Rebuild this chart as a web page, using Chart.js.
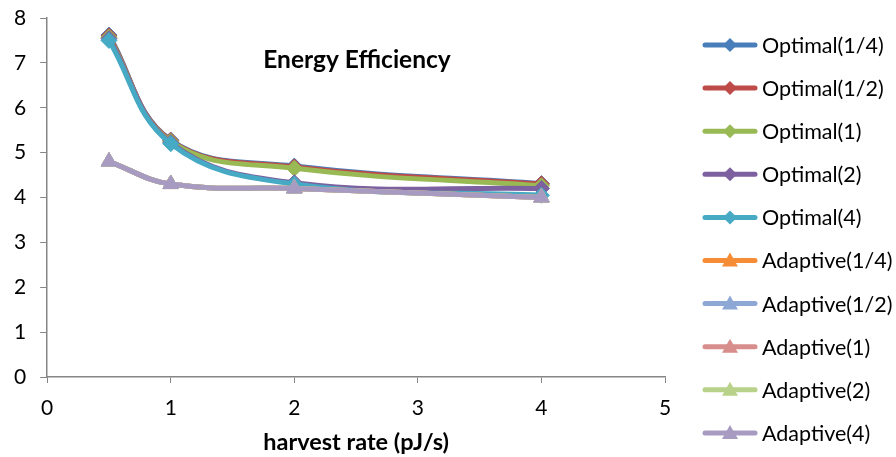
<!DOCTYPE html>
<html>
<head>
<meta charset="utf-8">
<script src="https://cdn.jsdelivr.net/npm/chart.js@4"></script>
<style>
  html, body { margin: 0; padding: 0; background: #fff; }
  #wrap { width: 896px; height: 457px; }
</style>
</head>
<body>
<div id="wrap"><canvas id="energyChart" width="896" height="457"></canvas></div>
<script>
// harvest rate (pJ/s) on the x axis
const harvestRates = [0.5, 1, 2, 4];

const seriesNames = [
    "Optimal(1/4)", "Optimal(1/2)", "Optimal(1)", "Optimal(2)", "Optimal(4)",
    "Adaptive(1/4)", "Adaptive(1/2)", "Adaptive(1)", "Adaptive(2)", "Adaptive(4)"
];

const optimalQuarter = [7.62, 5.28, 4.70, 4.31];
const optimalHalf    = [7.60, 5.27, 4.68, 4.30];
const optimalOne     = [7.57, 5.25, 4.65, 4.26];
const optimalTwo     = [7.54, 5.22, 4.33, 4.20];
const optimalFour    = [7.50, 5.20, 4.30, 4.05];
const adaptiveQuarter = [4.80, 4.30, 4.20, 4.00];
const adaptiveHalf    = [4.80, 4.30, 4.20, 4.00];
const adaptiveOne     = [4.80, 4.30, 4.20, 4.00];
const adaptiveTwo     = [4.80, 4.30, 4.20, 4.00];
const adaptiveFour    = [4.80, 4.30, 4.20, 4.00];

const xTicks = [0, 1, 2, 3, 4, 5];
const yTicks = [0, 1, 2, 3, 4, 5, 6, 7, 8];

const seriesValues = [
    optimalQuarter, optimalHalf, optimalOne, optimalTwo, optimalFour,
    adaptiveQuarter, adaptiveHalf, adaptiveOne, adaptiveTwo, adaptiveFour
];

const colors = [
    "#4A7EBB", "#BE4B48", "#98B954", "#7D60A0", "#46AAC5",
    "#F68C36", "#8EA8D6", "#D78E8C", "#B9D28A", "#A79BC2"
];

const FONT = "Lato, 'Open Sans', sans-serif";

const datasets = seriesValues.map((vals, i) => {
    const isTri = i >= 5;
    return {
        label: seriesNames[i],
        data: vals.map((v, k) => ({ x: harvestRates[k], y: v })),
        borderColor: colors[i],
        backgroundColor: colors[i],
        borderWidth: 5,
        pointStyle: isTri ? "triangle" : "rectRot",
        pointRadius: isTri ? 9 : 8,
        pointBorderWidth: 1,
        tension: 0.4,
        order: 10 - i
    };
});

// legend with line + marker drawn like the spreadsheet, plus the inner title
const extras = {
    id: "extras",
    afterDraw(chart) {
        const ctx = chart.ctx;
        ctx.save();
        ctx.fillStyle = "#000";
        ctx.font = "bold 24.5px " + FONT;
        ctx.textAlign = "center";
        ctx.textBaseline = "middle";
        ctx.fillText("Energy Efficiency", 357, 60);

        ctx.textAlign = "left";
        ctx.font = "21.5px " + FONT;
        chart.data.datasets.forEach((ds, i) => {
            const y = 45 + i * 43.1;
            ctx.strokeStyle = ds.borderColor;
            ctx.lineWidth = 5;
            ctx.lineCap = "round";
            ctx.beginPath();
            ctx.moveTo(705, y);
            ctx.lineTo(755, y);
            ctx.stroke();
            ctx.fillStyle = ds.borderColor;
            ctx.beginPath();
            if (i < 5) {
                ctx.moveTo(730, y - 7);
                ctx.lineTo(737, y);
                ctx.lineTo(730, y + 7);
                ctx.lineTo(723, y);
            } else {
                ctx.moveTo(730, y - 8);
                ctx.lineTo(738, y + 6);
                ctx.lineTo(722, y + 6);
            }
            ctx.closePath();
            ctx.fill();
            ctx.fillStyle = "#000";
            ctx.fillText(ds.label, 762, y + 1);
        });
        ctx.restore();
    }
};

new Chart(document.getElementById("energyChart"), {
    type: "line",
    data: { datasets: datasets },
    options: {
        responsive: false,
        animation: false,
        layout: { padding: { left: 0, top: 18, right: 231, bottom: 0 } },
        plugins: {
            legend: { display: false },
            tooltip: { enabled: false }
        },
        scales: {
            x: {
                type: "linear",
                min: 0,
                max: 5,
                afterBuildTicks: axis => { axis.ticks = xTicks.map(v => ({ value: v })); },
                afterFit: axis => { axis.height = 80; },
                ticks: { color: "#000", font: { family: FONT, size: 21 }, padding: 13 },
                grid: { drawOnChartArea: false, drawTicks: true, tickLength: 6, color: "#868686" },
                border: { color: "#868686", width: 1.5 },
                title: {
                    display: true,
                    text: "harvest rate (pJ/s)",
                    color: "#000",
                    font: { family: FONT, size: 23.5, weight: "bold" },
                    padding: { top: 4, bottom: 0 }
                }
            },
            y: {
                min: 0,
                max: 8,
                afterBuildTicks: axis => { axis.ticks = yTicks.map(v => ({ value: v })); },
                afterFit: axis => { axis.paddingTop = 6; axis.paddingBottom = 0; },
                ticks: { color: "#000", font: { family: FONT, size: 21 }, padding: 14 },
                grid: { drawOnChartArea: false, drawTicks: true, tickLength: 7, color: "#868686" },
                border: { color: "#868686", width: 1.5 }
            }
        }
    },
    plugins: [extras]
});
</script>
</body>
</html>
